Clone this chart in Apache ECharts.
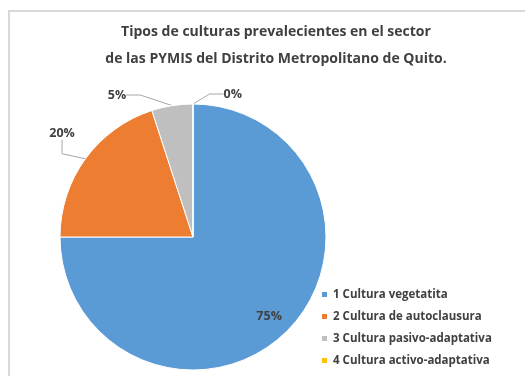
<!DOCTYPE html>
<html><head><meta charset="utf-8">
<script src="https://cdn.jsdelivr.net/npm/echarts@6/dist/echarts.min.js"></script>
<style>
html,body{margin:0;padding:0;background:#fff;}
#frame{position:absolute;left:8px;top:10px;width:540px;height:380px;border:2px solid #d9d9d9;box-sizing:border-box;}
#chart{position:absolute;left:0;top:0;width:525px;height:376px;}
</style></head><body>
<div id="frame"></div>
<div id="chart"></div>
<script>
var categories = ['1 Cultura vegetatita','2 Cultura de autoclausura','3 Cultura pasivo-adaptativa','4 Cultura activo-adaptativa'];
var values = [75, 20, 5, 0];
var colors = ['#5b9bd5','#ed7d31','#bfbfbf','#ffc000'];
var titleLines = ['Tipos de culturas prevalecientes en el sector','de las PYMIS del Distrito Metropolitano de Quito.'];

var font = '"Open Sans", sans-serif';
var chart = echarts.init(document.getElementById('chart'), null, {renderer:'canvas'});
var data = categories.map(function(c,i){
  var d = {name:c, value:values[i], itemStyle:{color:colors[i]}};
  if(i===0){ d.label = {position:'inside'}; d.labelLine={show:false}; }
  return d;
});
var offsets = [[27,30],[18,-15],[13,-6],[68,8]];
chart.setOption({
  animation:false,
  title:{text:titleLines.join('\n'), left:271, top:14, textAlign:'center',
    textStyle:{fontFamily:font, fontSize:14, fontWeight:'bold', color:'#404040', lineHeight:27}},
  legend:{orient:'vertical', left:315, top:282, height:100, itemWidth:7, itemHeight:7, itemGap:7,
    icon:'rect', textStyle:{fontFamily:font, fontSize:11.5, fontWeight:'bold', color:'#404040', lineHeight:15}},
  series:[{
    type:'pie', center:[193,237], radius:133, startAngle:90, clockwise:true,
    data:data, silent:true,
    itemStyle:{borderColor:'#ffffff', borderWidth:1},
    label:{show:true, formatter:'{d}%', fontFamily:font, fontSize:12.5, fontWeight:'bold', color:'#404040'},
    labelLine:{show:true, length:18, length2:14, lineStyle:{color:'#a6a6a6', width:1}},
    labelLayout:function(p){
      var o = offsets[p.dataIndex];
      var r = p.labelRect;
      return {x:r.x + r.width/2 + o[0], y:r.y + r.height/2 + o[1], align:'center', verticalAlign:'middle'};
    }
  }]
});
</script></body></html>
